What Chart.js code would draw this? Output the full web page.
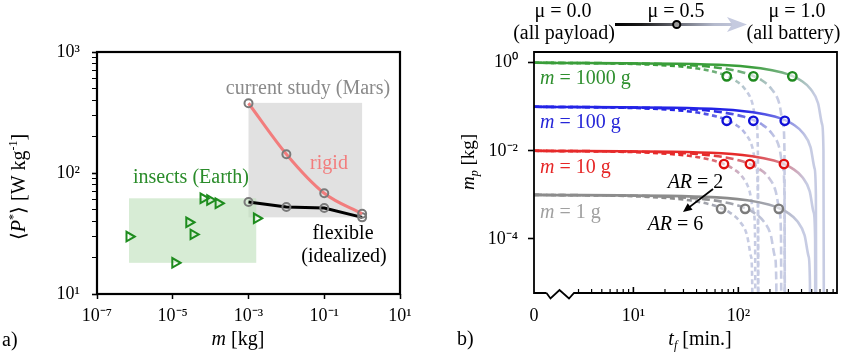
<!DOCTYPE html>
<html><head><meta charset="utf-8">
<script src="https://cdn.jsdelivr.net/npm/chart.js@4.4.1/dist/chart.umd.min.js"></script>
<style>
html,body{margin:0;padding:0;background:#fff;width:850px;height:356px;overflow:hidden}
canvas{position:absolute;top:0}
#ca{left:0;width:425px;height:356px}
#cb{left:425px;width:425px;height:356px}
</style></head><body>
<canvas id="ca" width="425" height="356"></canvas>
<canvas id="cb" width="425" height="356"></canvas>
<script>
// ---------- Panel a data ----------
const studyMass = [1e-3, 1e-2, 1e-1, 1];
const rigidPower = [377, 143, 68, 46];
const flexiblePower = [57.5, 52.4, 51.4, 43];
const insectMass = [7.1e-7, 1.15e-5, 2.69e-5, 3.49e-5, 6.4e-5, 9.6e-5, 1.6e-4, 1.64e-3];
const insectPower = [29.8, 18.1, 39.1, 31.1, 61.8, 59.8, 56.2, 42.2];
const studyBoxMass = [1e-3, 1];
const studyBoxPower = [43, 380];
const insectBoxMass = [7e-7, 1.6e-3];
const insectBoxPower = [18.1, 61.8];
const xTicksA = [1e-7, 1e-5, 1e-3, 1e-1, 10];
const xLabelsA = ['10⁻⁷', '10⁻⁵', '10⁻³', '10⁻¹', '10¹'];
const yTicksA = [10,20,30,40,50,60,70,80,90,100,200,300,400,500,600,700,800,900,1000];
const yMajorA = [10, 100, 1000];
const yLabelsA = ['10¹', '10²', '10³'];

// ---------- Panel b data ----------
const X0 = 1.13; // left end of broken axis, labelled "0"
const tf1000ar6 = [X0, 15.5, 38.8, 62, 77.5, 93, 116, 136, 149, 153.5, 155];
const tf1000ar4 = [X0, 27.8, 69.5, 111, 139, 167, 208, 245, 267, 275, 278];
const tf1000ar2 = [X0, 65.4, 163, 262, 327, 392, 490, 575, 628, 647, 654];
const tf100ar6 = [X0, 15.5, 38.8, 62, 77.5, 93, 116, 136, 149, 153.5, 155];
const tf100ar4 = [X0, 27.8, 69.5, 111, 139, 167, 208, 245, 267, 275, 278];
const tf100ar2 = [X0, 55.4, 138, 222, 277, 332, 415, 488, 532, 548, 554];
const tf10ar6 = [X0, 14.6, 36.5, 58.4, 73, 87.6, 110, 128, 140, 144.5, 146];
const tf10ar4 = [X0, 25.8, 64.5, 103, 129, 155, 194, 227, 248, 255, 258];
const tf10ar2 = [X0, 54.4, 136, 218, 272, 326, 408, 479, 522, 539, 544];
const tf1ar6 = [X0, 13.7, 34.3, 54.8, 68.5, 82.2, 103, 121, 132, 135.6, 137];
const tf1ar4 = [X0, 23.2, 58, 92.8, 116, 139, 174, 204, 223, 230, 232];
const tf1ar2 = [X0, 48.6, 122, 194, 243, 292, 365, 428, 467, 481, 486];
const mp1000 = [1, 0.9, 0.75, 0.6, 0.5, 0.4, 0.25, 0.12, 0.04, 0.01, 1e-7];
const mp100 = [0.1, 0.09, 0.075, 0.06, 0.05, 0.04, 0.025, 0.012, 0.004, 0.001, 1e-8];
const mp10 = [0.01, 0.009, 0.0075, 0.006, 0.005, 0.004, 0.0025, 0.0012, 0.0004, 0.0001, 1e-9];
const mp1 = [0.001, 0.0009, 0.00075, 0.0006, 0.0005, 0.0004, 0.00025, 0.00012, 0.00004, 0.00001, 1e-10];
const circT1000 = [77.5, 139, 327];
const circT100 = [77.5, 139, 277];
const circT10 = [73, 129, 272];
const circT1 = [68.5, 116, 243];
const circMp1000 = [0.49, 0.49, 0.49];
const circMp100 = [0.048, 0.048, 0.048];
const circMp10 = [0.005, 0.005, 0.005];
const circMp1 = [0.00048, 0.00048, 0.00048];
const massLabels = ['1000 g', '100 g', '10 g', '1 g'];
const xTicksB = [X0, 3,4,5,6,7,8,9,10,20,30,40,50,60,70,80,90,100,200,300,400,500,600,700,800];
const yTicksB = [1e-4, 1e-2, 1];
const yLabelsB = ['10⁻⁴', '10⁻²', '10⁰'];

// ---------- helpers ----------
const SERIF = '"Liberation Serif","Times New Roman",Times,serif';
const pts = (xs, ys) => xs.map((x, i) => ({x, y: ys[i]}));
function hex2rgb(h){h=h.replace('#','');return [parseInt(h.substr(0,2),16),parseInt(h.substr(2,2),16),parseInt(h.substr(4,2),16)];}
function mix(a,b,f){const A=hex2rgb(a),B=hex2rgb(b);return 'rgb('+A.map((v,i)=>Math.round(v+(B[i]-v)*f)).join(',')+')';}
function rich(ctx, parts, x, y, align, color, size){
  size = size || 20;
  const fontFor = st => {
    const small = (st==='sup'||st==='sub'||st==='isub');
    const s = small ? Math.round(size*0.62) : size;
    const it = (st==='i'||st==='isub') ? 'italic ' : '';
    return it + s + 'px ' + SERIF;
  };
  let w = 0;
  parts.forEach(([t,st]) => { ctx.font = fontFor(st); w += ctx.measureText(t).width; });
  let cx = align==='center' ? x - w/2 : (align==='right' ? x - w : x);
  ctx.fillStyle = color; ctx.textBaseline = 'alphabetic'; ctx.textAlign = 'left';
  parts.forEach(([t,st]) => {
    ctx.font = fontFor(st);
    const dy = st==='sup' ? -size*0.42 : ((st==='sub'||st==='isub') ? size*0.22 : 0);
    ctx.fillText(t, cx, y + dy);
    cx += ctx.measureText(t).width;
  });
}

// ---------- Panel a ----------
const plugA = {
  id: 'plugA',
  beforeDatasetsDraw(chart){
    const {ctx, scales:{x, y}} = chart;
    ctx.save();
    ctx.fillStyle = '#e1e1e1';
    let x0 = x.getPixelForValue(studyBoxMass[0]), x1 = x.getPixelForValue(studyBoxMass[1]);
    let y0 = y.getPixelForValue(studyBoxPower[1]), y1 = y.getPixelForValue(studyBoxPower[0]);
    ctx.fillRect(x0, y0, x1-x0, y1-y0);
    ctx.fillStyle = 'rgba(190,225,188,0.62)';
    x0 = x.getPixelForValue(insectBoxMass[0]); x1 = x.getPixelForValue(insectBoxMass[1]);
    y0 = y.getPixelForValue(insectBoxPower[1]); y1 = y.getPixelForValue(insectBoxPower[0]);
    ctx.fillRect(x0, y0, x1-x0, y1-y0);
    ctx.restore();
  },
  afterDraw(chart){
    const {ctx, chartArea:a} = chart;
    ctx.save();
    ctx.strokeStyle = '#000'; ctx.lineWidth = 2.2;
    ctx.strokeRect(a.left, a.top, a.right-a.left, a.bottom-a.top);
    rich(ctx, [['current study (Mars)','n']], 308, 94, 'center', '#8a8a8a');
    rich(ctx, [['rigid','n']], 329, 169, 'center', '#f27d7d');
    rich(ctx, [['insects (Earth)','n']], 191, 183, 'center', '#2a8c2a');
    rich(ctx, [['flexible','n']], 343, 239, 'center', '#000');
    rich(ctx, [['(idealized)','n']], 344, 262, 'center', '#000');
    rich(ctx, [['a)','n']], 2, 346, 'left', '#000');
    rich(ctx, [['m','i'],[' [kg]','n']], 238, 345, 'center', '#000');
    ctx.translate(25, 187); ctx.rotate(-Math.PI/2);
    rich(ctx, [['⟨','n'],['P','i'],['*','sup'],['⟩','n'],[' [W kg','n'],['-1','sup'],[']','n']], 0, 0, 'center', '#000');
    ctx.restore();
  }
};

new Chart(document.getElementById('ca'), {
  type: 'scatter',
  data: { datasets: [
    { label: 'insects', data: pts(insectMass, insectPower), showLine: false, order: 0,
      pointStyle: 'triangle', rotation: 90, pointRadius: 5.5, pointBorderWidth: 2,
      pointBorderColor: '#1e8c1e', pointBackgroundColor: 'rgba(0,0,0,0)' },
    { label: 'rigid', type: 'line', data: pts(studyMass, rigidPower), order: 1,
      borderColor: '#f27d7d', borderWidth: 3, cubicInterpolationMode: 'monotone',
      pointRadius: 4, pointBorderWidth: 2, pointBorderColor: '#7a7a7a', pointBackgroundColor: 'rgba(0,0,0,0)' },
    { label: 'flexible', type: 'line', data: pts(studyMass, flexiblePower), order: 1,
      borderColor: '#000', borderWidth: 3,
      pointRadius: 4, pointBorderWidth: 2, pointBorderColor: '#7a7a7a', pointBackgroundColor: 'rgba(0,0,0,0)' }
  ]},
  options: {
    responsive: false, animation: false, devicePixelRatio: 1,
    layout: { padding: { left: 0, top: 52, right: 25, bottom: 0 } },
    plugins: { legend: { display: false }, tooltip: { enabled: false } },
    scales: {
      x: { type: 'logarithmic', min: 1e-7, max: 10,
        afterBuildTicks: s => { s.ticks = xTicksA.map(v => ({value: v})); },
        afterFit: s => { s.height = 62; },
        ticks: { autoSkip: false, maxRotation: 0, padding: 6, color: '#000',
          font: { family: SERIF, size: 18 },
          callback: v => { const i = xTicksA.indexOf(v); return i >= 0 ? xLabelsA[i] : ''; } },
        grid: { drawOnChartArea: false, tickLength: 5, tickColor: '#000', tickWidth: 1.5 },
        border: { display: false } },
      y: { type: 'logarithmic', min: 10, max: 1000,
        afterBuildTicks: s => { s.ticks = yTicksA.map(v => ({value: v})); },
        afterFit: s => { s.width = 97; },
        ticks: { autoSkip: false, padding: 12, color: '#000',
          font: { family: SERIF, size: 18 },
          callback: v => { const i = yMajorA.indexOf(v); return i >= 0 ? yLabelsA[i] : ''; } },
        grid: { drawOnChartArea: false, tickLength: 5, tickColor: '#000',
          tickWidth: c => (c.tick && yMajorA.includes(c.tick.value)) ? 1.6 : 1 },
        border: { display: false } }
    }
  },
  plugins: [plugA]
});

// ---------- Panel b ----------
const COLS = ['#3a9e3a', '#2323e6', '#e62a2a', '#8c8c8c'];
const CIRC = ['#1f8a1f', '#1010d8', '#e01010', '#7c7c7c'];
const TXT = ['#2e8f2e', '#2626d8', '#e62626', '#a0a0a0'];
const END = '#c7cce3';
function fade(col){
  return function(c){
    const ch = c.chart, xs = ch.scales && ch.scales.x, ca = ch.chartArea;
    if (!xs || !ca || !c.dataset) return col;
    const d = c.dataset.data; const T = d[d.length-1].x;
    const x0 = ca.left, x1 = xs.getPixelForValue(T);
    if (!(x1 > x0 + 1)) return col;
    const g = ch.ctx.createLinearGradient(x0, 0, x1, 0);
    const p = m => Math.min(1, Math.max(0, (xs.getPixelForValue(m*T) - x0) / (x1 - x0)));
    g.addColorStop(0, col);
    g.addColorStop(p(0.2), col);
    g.addColorStop(p(0.5), mix(col, END, 0.55));
    g.addColorStop(p(0.82), END);
    g.addColorStop(1, END);
    return g;
  };
}
const groups = [
  { ts: [tf1000ar6, tf1000ar4, tf1000ar2], mp: mp1000, ct: circT1000, cm: circMp1000 },
  { ts: [tf100ar6, tf100ar4, tf100ar2], mp: mp100, ct: circT100, cm: circMp100 },
  { ts: [tf10ar6, tf10ar4, tf10ar2], mp: mp10, ct: circT10, cm: circMp10 },
  { ts: [tf1ar6, tf1ar4, tf1ar2], mp: mp1, ct: circT1, cm: circMp1 }
];
const DASH = [[5,3.5], [8,4], []];
const dsB = [];
groups.forEach((g, gi) => {
  dsB.push({ label: 'circles ' + massLabels[gi], type: 'scatter', data: pts(g.ct, g.cm), order: 0,
    pointRadius: 4.2, pointBorderWidth: 2.4, pointBorderColor: CIRC[gi], pointBackgroundColor: 'rgba(255,255,255,0.55)' });
  g.ts.forEach((t, k) => {
    dsB.push({ label: massLabels[gi] + ' AR' + [6,4,2][k], type: 'line', data: pts(t, g.mp), order: 1 + (2-k),
      borderColor: fade(COLS[gi]), borderWidth: 2.6, borderDash: DASH[k],
      cubicInterpolationMode: 'monotone', pointRadius: 0 });
  });
});

const plugB = {
  id: 'plugB',
  afterDraw(chart){
    const {ctx, chartArea:a, scales:{x}} = chart;
    ctx.save();
    ctx.strokeStyle = '#000'; ctx.lineWidth = 1.8; ctx.lineJoin = 'miter';
    ctx.beginPath();
    ctx.moveTo(a.left + 12.5, a.bottom);
    ctx.lineTo(a.left, a.bottom); ctx.lineTo(a.left, a.top); ctx.lineTo(a.right, a.top);
    ctx.lineTo(a.right, a.bottom); ctx.lineTo(a.left + 40, a.bottom);
    ctx.lineTo(a.left + 35, a.bottom + 5.5); ctx.lineTo(a.left + 25.5, a.bottom - 3);
    ctx.lineTo(a.left + 16.5, a.bottom + 5.5); ctx.lineTo(a.left + 12.5, a.bottom);
    ctx.stroke();
    // inward x ticks
    xTicksB.forEach(v => {
      if (v === X0) return;
      const px = x.getPixelForValue(v);
      const major = (v === 10 || v === 100);
      ctx.lineWidth = major ? 1.6 : 1.2;
      ctx.beginPath(); ctx.moveTo(px, a.bottom); ctx.lineTo(px, a.bottom - (major ? 6 : 4)); ctx.stroke();
    });
    const OX = 425;
    massLabels.forEach((m, i) => {
      rich(ctx, [['m','i'],[' = ' + m,'n']], 540 - OX, [84, 128, 172.5, 218][i], 'left', TXT[i]);
    });
    rich(ctx, [['AR','i'],[' = 2','n']], 695.5 - OX, 187.5, 'center', '#000');
    rich(ctx, [['AR','i'],[' = 6','n']], 675.5 - OX, 230, 'center', '#000');
    // AR arrow
    ctx.strokeStyle = '#000'; ctx.fillStyle = '#000'; ctx.lineWidth = 1.8;
    const ax0 = 713 - OX, ay0 = 189, ax1 = 683 - OX, ay1 = 212;
    const ang = Math.atan2(ay1 - ay0, ax1 - ax0);
    ctx.beginPath(); ctx.moveTo(ax0, ay0); ctx.lineTo(ax1 - 6*Math.cos(ang), ay1 - 6*Math.sin(ang)); ctx.stroke();
    ctx.beginPath(); ctx.moveTo(ax1, ay1);
    ctx.lineTo(ax1 - 9*Math.cos(ang) + 4*Math.sin(ang), ay1 - 9*Math.sin(ang) - 4*Math.cos(ang));
    ctx.lineTo(ax1 - 9*Math.cos(ang) - 4*Math.sin(ang), ay1 - 9*Math.sin(ang) + 4*Math.cos(ang));
    ctx.closePath(); ctx.fill();
    rich(ctx, [['b)','n']], 457 - OX, 345, 'left', '#000');
    rich(ctx, [['t','i'],['f','isub'],[' [min.]','n']], 700 - OX, 345, 'center', '#000');
    ctx.save(); ctx.translate(474 - OX, 162); ctx.rotate(-Math.PI/2);
    rich(ctx, [['m','i'],['p','isub'],[' [kg]','n']], 0, 0, 'center', '#000', 19);
    ctx.restore();
    // top mu annotation
    rich(ctx, [['μ = 0.0','n']], 563 - OX, 17, 'center', '#000');
    rich(ctx, [['(all payload)','n']], 564 - OX, 39, 'center', '#000');
    rich(ctx, [['μ = 0.5','n']], 676 - OX, 17, 'center', '#000');
    rich(ctx, [['μ = 1.0','n']], 797 - OX, 17, 'center', '#000');
    rich(ctx, [['(all battery)','n']], 793.5 - OX, 39, 'center', '#000');
    const gy = 24.5, gx0 = 615 - OX, gx1 = 747 - OX;
    const gr = ctx.createLinearGradient(gx0, 0, gx1, 0);
    gr.addColorStop(0, '#000'); gr.addColorStop(0.2, '#1a1a1a'); gr.addColorStop(0.75, '#b4b9cc'); gr.addColorStop(1, '#c7cce0');
    ctx.strokeStyle = gr; ctx.lineWidth = 3;
    ctx.beginPath(); ctx.moveTo(gx0, gy); ctx.lineTo(gx1 - 14, gy); ctx.stroke();
    ctx.fillStyle = '#c5cadf';
    ctx.beginPath(); ctx.moveTo(gx1, gy); ctx.lineTo(gx1 - 20, gy - 7.5); ctx.lineTo(gx1 - 15, gy); ctx.lineTo(gx1 - 20, gy + 7.5); ctx.closePath(); ctx.fill();
    ctx.fillStyle = '#9a9a9a'; ctx.strokeStyle = '#000'; ctx.lineWidth = 2;
    ctx.beginPath(); ctx.arc(676.7 - OX, gy, 3.6, 0, Math.PI*2); ctx.fill(); ctx.stroke();
    ctx.restore();
  }
};

new Chart(document.getElementById('cb'), {
  type: 'scatter',
  data: { datasets: dsB },
  options: {
    responsive: false, animation: false, devicePixelRatio: 1,
    layout: { padding: { left: 0, top: 52, right: 13, bottom: 0 } },
    plugins: { legend: { display: false }, tooltip: { enabled: false } },
    scales: {
      x: { type: 'logarithmic', min: X0, max: 871,
        afterBuildTicks: s => { s.ticks = xTicksB.map(v => ({value: v})); },
        afterFit: s => { s.height = 63; },
        ticks: { autoSkip: false, maxRotation: 0, padding: 8, color: '#000',
          font: { family: SERIF, size: 18 },
          callback: v => v === X0 ? '0' : (v === 10 ? '10¹' : (v === 100 ? '10²' : '')) },
        grid: { drawOnChartArea: false, tickLength: 4, tickColor: 'rgba(0,0,0,0)' },
        border: { display: false } },
      y: { type: 'logarithmic', min: 5.9e-6, max: 1.75,
        afterBuildTicks: s => { s.ticks = yTicksB.map(v => ({value: v})); },
        afterFit: s => { s.width = 109; },
        ticks: { autoSkip: false, padding: 10, color: '#000',
          font: { family: SERIF, size: 18 },
          callback: v => { const i = yTicksB.indexOf(v); return i >= 0 ? yLabelsB[i] : ''; } },
        grid: { drawOnChartArea: false, tickLength: 6, tickColor: '#000', tickWidth: 1.6 },
        border: { display: false } }
    }
  },
  plugins: [plugB]
});
</script></body></html>
